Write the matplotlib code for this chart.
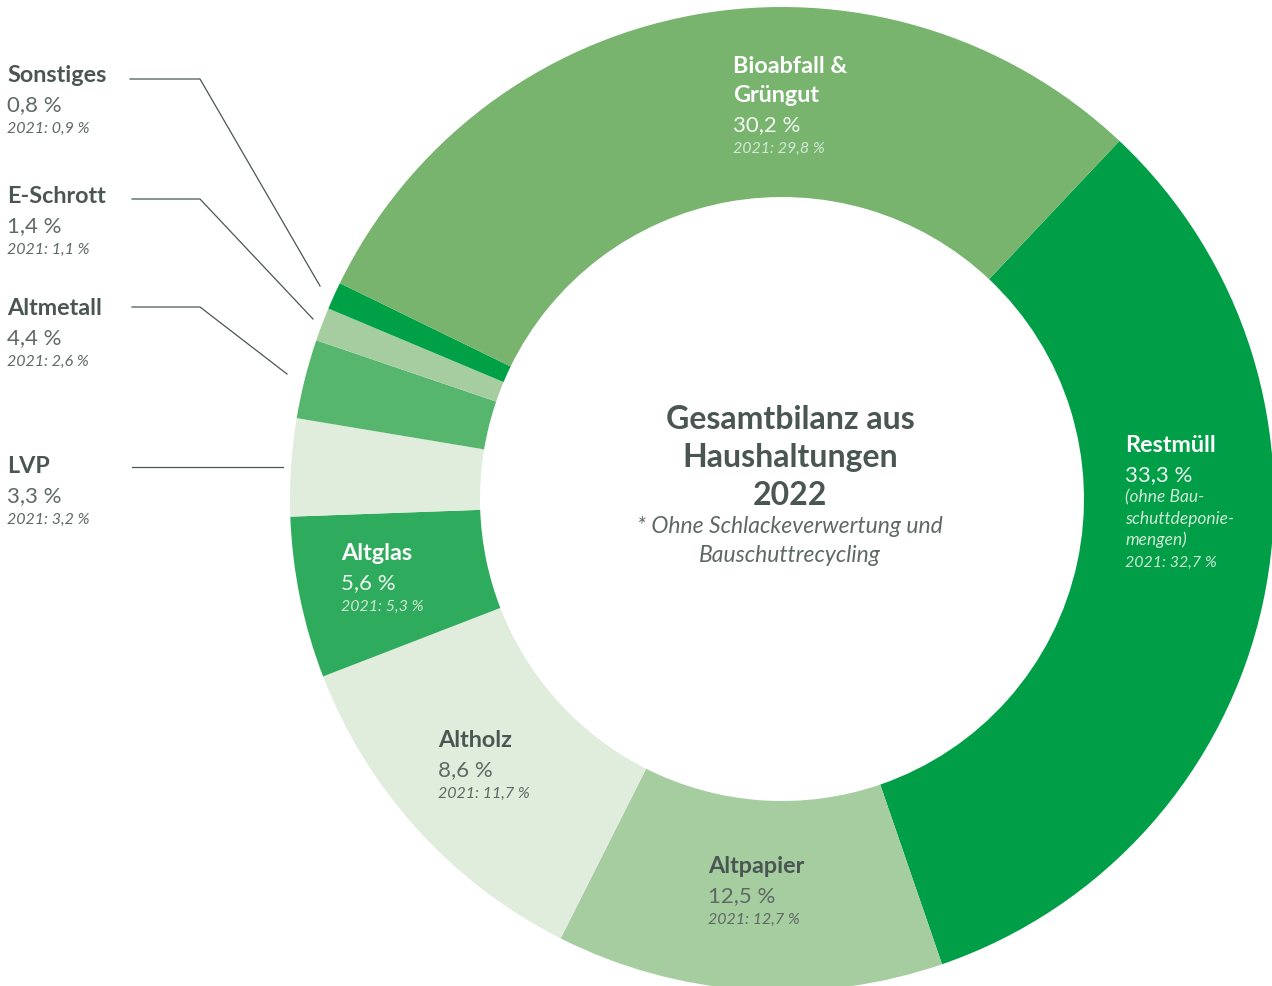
import matplotlib.pyplot as plt

# Anteile in Prozent (Reihenfolge im Uhrzeigersinn ab Restmüll)
categories = ['Restmüll', 'Altpapier', 'Altholz', 'Altglas', 'LVP',
              'Altmetall', 'E-Schrott', 'Sonstiges', 'Bioabfall & Grüngut']
share_2022 = [33.3, 12.5, 8.6, 5.6, 3.3, 4.4, 1.4, 0.8, 30.2]
share_2021 = [32.7, 12.7, 11.7, 5.3, 3.2, 2.6, 1.1, 0.9, 29.8]
colors = ['#009e47', '#a6cda0', '#e0ecdc', '#2eab5c', '#e0ecdc',
          '#56b66e', '#a6cda0', '#00a046', '#78b46e']

TXT = '#4a5651'
TXT_LIGHT = '#5e6964'
FONT = 'Lato'


def pct(v):
    return f'{v:.1f}'.replace('.', ',') + ' %'


def label(ax, x, y, title, v22, v21, color=TXT, vcolor=TXT_LIGHT, note=None,
          sub_color=None):
    sub_color = sub_color or vcolor
    for line in title.split('\n'):
        ax.text(x, y, line, color=color, fontsize=16.8, fontweight='bold',
                family=FONT, va='baseline')
        y += 29
    ax.text(x, y, pct(v22), color=vcolor, fontsize=16, fontweight='normal',
            family=FONT, va='baseline')
    # Anmerkung etwas grösser als die Vorjahreszeile
    extra = [(l, 12.5) for l in (note.split('\n') if note else [])]
    extra.append(('2021: ' + pct(v21), 11.5))
    for line, size in extra:
        y += 21.5
        ax.text(x, y, line, color=sub_color, fontsize=size, fontweight='normal',
                style='italic', family=FONT, va='baseline')


def main():
    fig = plt.figure(figsize=(12.72, 9.87), dpi=100)
    ax = fig.add_axes([0, 0, 1, 1])

    # y-Achse invertiert (Pixelkoordinaten) -> counterclock=True läuft optisch im Uhrzeigersinn
    ax.pie(share_2021, colors=colors, startangle=-46.7, counterclock=True,
           center=(782, 500), radius=492,
           wedgeprops=dict(width=190, linewidth=0))
    ax.set_xlim(0, 1272)
    ax.set_ylim(987, 0)
    ax.set_aspect('equal')
    ax.axis('off')

    idx = {c: i for i, c in enumerate(categories)}

    def vals(c):
        return share_2022[idx[c]], share_2021[idx[c]]

    white_sub = '#cfe9d4'
    label(ax, 733, 73, 'Bioabfall &\nGrüngut', *vals('Bioabfall & Grüngut'),
          color='white', vcolor='#f2f8f1', sub_color=white_sub)
    label(ax, 1125, 452, 'Restmüll', *vals('Restmüll'), color='white',
          vcolor='#eef8f1', note='(ohne Bau-\nschuttdeponie-\nmengen)',
          sub_color=white_sub)
    label(ax, 708, 873, 'Altpapier', *vals('Altpapier'))
    label(ax, 438, 747, 'Altholz', *vals('Altholz'))
    label(ax, 341, 560, 'Altglas', *vals('Altglas'), color='white',
          vcolor='#eef8f1', sub_color=white_sub)

    label(ax, 7, 82, 'Sonstiges', *vals('Sonstiges'))
    label(ax, 7, 203, 'E-Schrott', *vals('E-Schrott'))
    label(ax, 7, 315, 'Altmetall', *vals('Altmetall'))
    label(ax, 7, 473, 'LVP', *vals('LVP'))

    # Führungslinien
    leaders = [
        [(130, 80), (200, 80), (320, 287)],
        [(132, 200), (200, 200), (313, 320)],
        [(132, 308), (200, 308), (287, 375)],
        [(132, 468), (283, 468)],
    ]
    for pts in leaders:
        xs, ys = zip(*pts)
        ax.plot(xs, ys, color=TXT, lw=0.9)

    # Mitte
    for i, line in enumerate(['Gesamtbilanz aus', 'Haushaltungen', '2022']):
        ax.text(790, 429 + i * 38, line, color=TXT, fontsize=23,
                fontweight='bold', family=FONT, ha='center', va='baseline')
    for i, line in enumerate(['* Ohne Schlackeverwertung und',
                              'Bauschuttrecycling']):
        ax.text(790, 533 + i * 29, line, color=TXT_LIGHT, fontsize=16.5,
                fontweight='normal', style='italic', family=FONT, ha='center',
                va='baseline')

    fig.savefig('out.png', dpi=100)


if __name__ == "__main__":
    main()
